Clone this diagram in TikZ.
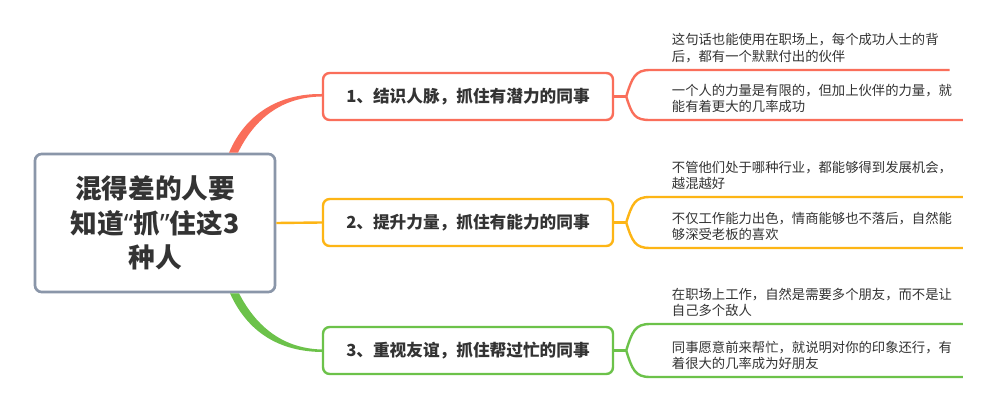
\documentclass[tikz,border=0pt]{standalone}
\usepackage{fontspec}
\setmainfont{Noto Sans CJK SC}
\newfontfamily\quotefont{Noto Sans}
\usepackage{xcolor}
\usetikzlibrary{calc}

\definecolor{branchred}{HTML}{FA6E5A}
\definecolor{branchorange}{HTML}{FDB515}
\definecolor{branchgreen}{HTML}{6CC24A}
\definecolor{rootgray}{HTML}{8A96A9}
\definecolor{textgray}{HTML}{333333}

\tikzset{
  rootbox/.style={draw=rootgray, line width=2pt, rounded corners=5pt, fill=white,
    minimum width=180pt, minimum height=103.5pt, align=center, text=textgray,
    font=\fontsize{20}{26}\selectfont\bfseries},
  topicbox/.style={draw=#1, line width=1.8pt, rounded corners=5pt, fill=white,
    minimum width=217.5pt, minimum height=35.25pt, text=textgray,
    font=\fontsize{12.5}{15}\selectfont\bfseries},
  leaf/.style={anchor=south west, align=left, inner xsep=8pt, inner ysep=5pt,
    text=textgray, font=\fontsize{10}{12.5}\selectfont},
  bracket/.style={draw=#1, line width=1.8pt},
}

\begin{document}
\begin{tikzpicture}[x=0.75pt, y=-0.75pt]
  \useasboundingbox[fill=white] (0,0) rectangle (1000,417);

  % Root topic
  \node[rootbox] (root) at (155,223) {混得差的人要\\知道{\quotefont“}抓{\quotefont”}住这3\\种人};

  % Main topics
  \node[topicbox=branchred] (t1) at (468,96.5) {1、结识人脉，抓住有潜力的同事};
  \node[topicbox=branchorange] (t2) at (468,222.5) {2、提升力量，抓住有能力的同事};
  \node[topicbox=branchgreen] (t3) at (468,350.5) {3、重视友谊，抓住帮过忙的同事};

  % Root to main topics
  \fill[branchred] ($(root.north)+(74,0)$) .. controls (246,113) and (280,93.5) .. ($(t1.west)+(0,-2.5)$)
    -- (t1.west) .. controls (282,97) and (255,118) .. ($(root.north)+(83,0)$) -- cycle;
  \draw[branchorange, line width=1.8pt] (root.east) -- (t2.west);
  \fill[branchgreen] ($(root.south)+(75,0)$) .. controls (248,333) and (280,351.5) .. ($(t3.west)+(0,1.5)$)
    -- ($(t3.west)+(0,-1)$) .. controls (284,348.5) and (257,328) .. ($(root.south)+(84,0)$) -- cycle;

  % Subtopics
  \node[leaf] (l11) at (661,70) {这句话也能使用在职场上，每个成功人士的背\\后，都有一个默默付出的伙伴};
  \node[leaf] (l12) at (661,120) {一个人的力量是有限的，但加上伙伴的力量，就\\能有着更大的几率成功};
  \node[leaf] (l21) at (661,197) {不管他们处于哪种行业，都能够得到发展机会，\\越混越好};
  \node[leaf] (l22) at (661,248) {不仅工作能力出色，情商能够也不落后，自然能\\够深受老板的喜欢};
  \node[leaf] (l31) at (661,324) {在职场上工作，自然是需要多个朋友，而不是让\\自己多个敌人};
  \node[leaf] (l32) at (661,377) {同事愿意前来帮忙，就说明对你的印象还行，有\\着很大的几率成为好朋友};

  % Brackets
  \foreach \t/\a/\b/\col in {t1/l11/l12/branchred, t2/l21/l22/branchorange, t3/l31/l32/branchgreen} {
    \coordinate (j\t) at ($(\t.east)+(12,0)$);
    \draw[bracket=\col] (\t.east) -- (j\t);
    \draw[bracket=\col] (j\t) .. controls +(6,-19) and +(-15,0) .. ($(\a.south west)+(-11,0)$) -- (\a.south east);
    \draw[bracket=\col] (j\t) .. controls +(6,19) and +(-15,0) .. ($(\b.south west)+(-11,0)$) -- (\b.south east);
  }
\end{tikzpicture}
\end{document}
